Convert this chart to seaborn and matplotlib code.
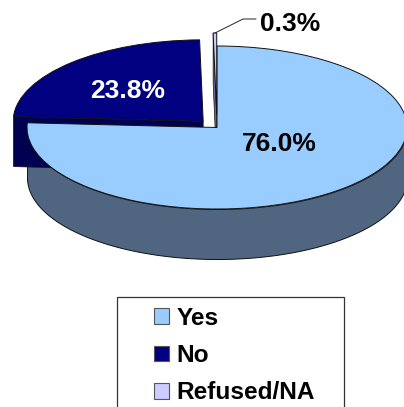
import numpy as np
import matplotlib
matplotlib.use('Agg')
import matplotlib.pyplot as plt
from matplotlib.patches import Polygon, Rectangle
import seaborn as sns

labels = ['Yes', 'No', 'Refused/NA']
values = [76.0, 23.8, 0.3]
explode = [0, 0.105, 0.16]
colors = ['#99CCFF', '#000080', '#CCCCFF']
side_colors = ['#4F6580', '#000050', '#666699']

W, H = 404, 407
CX, CY = 217, 127.5   # pie centre in pixels
RX, RY = 190, 81.5
DEPTH = 50 / RY

sns.set_theme(style='white')
plt.rcParams['font.family'] = ['Liberation Sans', 'DejaVu Sans']
plt.rcParams['font.weight'] = 'bold'

fig = plt.figure(figsize=(W / 100, H / 100), dpi=100)
ax = fig.add_axes([0, 0, 1, 1])

wedges, _ = ax.pie(values, colors=colors, explode=explode, startangle=90, counterclock=False,
                   normalize=True, wedgeprops={'edgecolor': '#111111', 'linewidth': 0.7, 'zorder': 5})

# the pie is squashed by the axis limits, not by the data
ax.set_aspect('auto')
ax.set_xlim((0 - CX) / RX, (W - CX) / RX)
ax.set_ylim((CY - H) / RY, CY / RY)
ax.set_axis_off()

# wall of the main slice, only the front half is visible
t = np.radians(np.linspace(180, 360, 200))
xs = np.cos(t)
ys = np.sin(t)
ax.fill_between(xs, ys - DEPTH, ys, color=side_colors[0], ec='#111111', lw=0.7, zorder=2)

# cut faces of the two pulled out slices, pie() moves the wedge so the offset is worked out here
for w, col, expl in zip(wedges[1:], side_colors[1:], explode[1:]):
    mid = np.radians((w.theta1 + w.theta2) / 2)
    cx, cy = expl * np.cos(mid), expl * np.sin(mid)
    a = np.radians(w.theta2)
    ex, ey = cx + np.cos(a), cy + np.sin(a)
    ax.add_patch(Polygon([(cx, cy), (ex, ey), (ex, ey - DEPTH), (cx, cy - DEPTH)], closed=True, fc=col,
                         ec='#111111', lw=0.5, zorder=3))


def to_data(px, py):
    return (px - CX) / RX, (CY - py) / RY


ax.text(*to_data(279, 144), f'{values[0]:.1f}%', color='black', fontsize=19, ha='center', va='center', zorder=6)
ax.text(*to_data(128, 91), f'{values[1]:.1f}%', color='white', fontsize=19, ha='center', va='center', zorder=6)
ax.text(*to_data(290, 24), f'{values[2]:.1f}%', color='black', fontsize=19, ha='center', va='center', zorder=6)

# leader line for the small slice
lx, ly = zip(to_data(215, 33), to_data(243, 19), to_data(256, 19))
ax.plot(lx, ly, color='#222222', lw=0.7, zorder=6)

# legend box runs off the bottom of the image
ax.add_patch(Rectangle((117 / W, -0.02), (344 - 117) / W, (H - 297) / H + 0.02, transform=fig.transFigure,
                       fc='white', ec='#333333', lw=0.9, clip_on=False, zorder=8))
leg = ax.legend(wedges, labels, loc='upper left', bbox_to_anchor=(154 / W, 1 - 307 / H), frameon=False,
                fontsize=17.6, handlelength=0.62, handleheight=0.62, handletextpad=0.3, labelspacing=0.58,
                borderpad=0, borderaxespad=0, labelcolor='black')
leg.set_zorder(10)
for h in leg.legend_handles:
    h.set_edgecolor('#555555')
    h.set_linewidth(0.8)

fig.savefig('out.png', dpi=100)
